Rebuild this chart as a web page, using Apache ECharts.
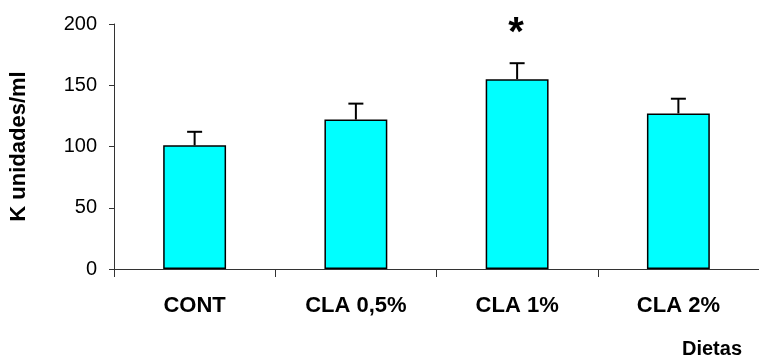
<!DOCTYPE html>
<html>
<head>
<meta charset="utf-8">
<script src="https://cdn.jsdelivr.net/npm/echarts@6/dist/echarts.min.js"></script>
<style>
  html, body { margin: 0; padding: 0; background: #ffffff; }
  #chart { width: 759px; height: 358px; }
</style>
</head>
<body>
<div id="chart"></div>
<script>
// Diet groups and mean K activity (units/ml) with standard error
const categories = ['CONT', 'CLA 0,5%', 'CLA 1%', 'CLA 2%'];
const means = [101, 122, 155, 127];
const errors = [11, 13, 13, 12];
const significance = ['', '', '*', ''];
const yTicks = [0, 50, 100, 150, 200];

const FONT = '"Liberation Sans", Arial, sans-serif';

const chart = echarts.init(document.getElementById('chart'), null, { renderer: 'canvas' });

const errorData = categories.map((c, i) => [i, means[i], means[i] + errors[i], significance[i]]);

chart.setOption({
  backgroundColor: '#ffffff',
  animation: false,
  grid: { left: 112, right: -4, top: 24, bottom: 89, containLabel: false },
  xAxis: {
    type: 'category',
    data: categories,
    boundaryGap: true,
    axisLine: { show: true, lineStyle: { color: '#333333', width: 1 } },
    axisTick: { show: true, length: 8, alignWithLabel: false, lineStyle: { color: '#333333', width: 1 } },
    axisLabel: { margin: 26, color: '#000000', fontFamily: FONT, fontWeight: 'bold', fontSize: 22 },
    splitLine: { show: false }
  },
  yAxis: {
    type: 'value',
    min: yTicks[0],
    max: yTicks[yTicks.length - 1],
    interval: yTicks[1] - yTicks[0],
    name: 'K unidades/ml',
    nameLocation: 'middle',
    nameGap: 84,
    nameTextStyle: { color: '#000000', fontFamily: FONT, fontWeight: 'bold', fontSize: 22 },
    axisLine: { show: true, lineStyle: { color: '#333333', width: 1 } },
    axisTick: { show: true, length: 5, lineStyle: { color: '#333333', width: 1 } },
    axisLabel: { margin: 17, color: '#000000', fontFamily: FONT, fontSize: 20 },
    splitLine: { show: false }
  },
  graphic: [{
    type: 'text',
    left: 682,
    top: 339,
    style: { text: 'Dietas', fill: '#000000', font: 'bold 20px ' + FONT }
  }],
  series: [
    {
      type: 'bar',
      data: means,
      barWidth: '39%',
      itemStyle: { color: '#00ffff', borderColor: '#000000', borderWidth: 1.5 },
      z: 2
    },
    {
      type: 'custom',
      data: errorData,
      z: 3,
      renderItem: function (params, api) {
        const x = api.value(0);
        const base = api.coord([x, api.value(1)]);
        const top = api.coord([x, api.value(2)]);
        const half = 7.5;
        const children = [
          { type: 'line', shape: { x1: base[0], y1: base[1], x2: top[0], y2: top[1] },
            style: { stroke: '#000000', lineWidth: 2 } },
          { type: 'line', shape: { x1: top[0] - half, y1: top[1], x2: top[0] + half, y2: top[1] },
            style: { stroke: '#000000', lineWidth: 2 } }
        ];
        const mark = api.value(3);
        if (mark) {
          children.push({
            type: 'text',
            style: {
              text: mark, x: top[0] - 1, y: top[1] - 49,
              fill: '#000000', font: 'bold 40px ' + FONT,
              textAlign: 'center', textVerticalAlign: 'top'
            }
          });
        }
        return { type: 'group', children: children };
      }
    }
  ]
});
</script>
</body>
</html>
